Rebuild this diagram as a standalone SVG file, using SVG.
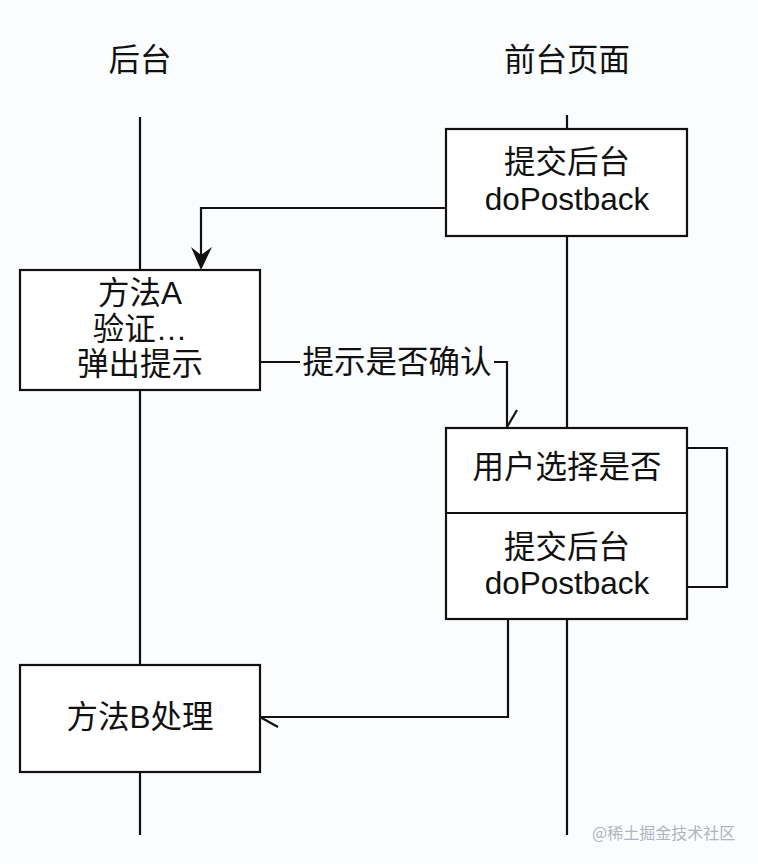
<svg xmlns="http://www.w3.org/2000/svg" width="758" height="864" viewBox="0 0 758 864">
<style>
.t{font-family:"Liberation Sans","Noto Sans CJK SC",sans-serif;font-size:31.5px;fill:#111;text-anchor:middle;dominant-baseline:central}
.box{fill:#fff;stroke:#111;stroke-width:2.2}
.ln{fill:none;stroke:#111;stroke-width:2.2}
.wm{font-family:"Noto Sans CJK SC",sans-serif;font-size:16px;fill:#b0b4bc;dominant-baseline:central}
</style>
<rect width="758" height="864" fill="#fbfcfd"/>
<g id="headers">
<text class="t" x="140" y="60">后台</text>
<text class="t" x="567" y="60">前台页面</text>
</g>
<g id="lifelines">
<line class="ln" x1="140" y1="117" x2="140" y2="270"/>
<line class="ln" x1="140" y1="390" x2="140" y2="665"/>
<line class="ln" x1="140" y1="772" x2="140" y2="835"/>
<line class="ln" x1="567" y1="115" x2="567" y2="129"/>
<line class="ln" x1="567" y1="236" x2="567" y2="428"/>
<line class="ln" x1="567" y1="619" x2="567" y2="835"/>
</g>
<g id="connectors">
<polyline class="ln" points="446,208 201,208 201,255"/>
<polygon points="191,247 201,270 212,247 201,255" fill="#111"/>
<line class="ln" x1="260" y1="362" x2="300" y2="362"/>
<text class="t" x="397" y="362">提示是否确认</text>
<polyline class="ln" points="494,362 507,362 507,427"/>
<line class="ln" x1="507" y1="427" x2="517" y2="410"/>
<polyline class="ln" points="687,448 727,448 727,587 687,587"/>
<polyline class="ln" points="508,619 508,717 260,717"/>
<line class="ln" x1="260" y1="717" x2="278" y2="727"/>
</g>
<g id="node-submit1">
<rect class="box" x="446" y="129" width="241" height="107"/>
<text class="t" x="567" y="162">提交后台</text>
<text class="t" x="567" y="199">doPostback</text>
</g>
<g id="node-methodA">
<rect class="box" x="20" y="270" width="240" height="120"/>
<text class="t" x="140" y="293">方法A</text>
<text class="t" x="140" y="329">验证…</text>
<text class="t" x="140" y="364">弹出提示</text>
</g>
<g id="node-choose">
<rect class="box" x="446" y="428" width="241" height="191"/>
<line class="ln" x1="446" y1="513" x2="687" y2="513"/>
<text class="t" x="567" y="467">用户选择是否</text>
<text class="t" x="567" y="547">提交后台</text>
<text class="t" x="567" y="583">doPostback</text>
</g>
<g id="node-methodB">
<rect class="box" x="20" y="665" width="240" height="107"/>
<text class="t" x="140" y="717">方法B处理</text>
</g>
<text class="wm" x="592" y="832">@稀土掘金技术社区</text>
</svg>
